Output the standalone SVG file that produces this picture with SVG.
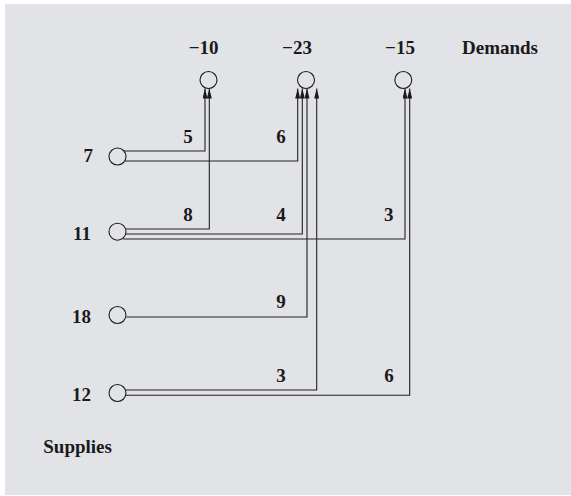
<svg xmlns="http://www.w3.org/2000/svg" width="571" height="496" viewBox="0 0 571 496">
<style>
.t{font-family:"Liberation Serif","Times New Roman",serif;font-weight:bold;font-size:19px;fill:#1a1a1a}
.n{fill:none;stroke:#1a1a1a;stroke-width:1.1}
.c{fill:none;stroke:#222;stroke-width:1.1}
</style>
<defs>
<marker id="ah" markerUnits="userSpaceOnUse" markerWidth="10" markerHeight="5" refX="10" refY="2.5" orient="auto">
<path d="M0,0 L10,2.5 L0,5 z" fill="#1a1a1a"/>
</marker>
</defs>
<rect x="5" y="4" width="566" height="491" fill="#e2e3e7"/>
<g id="connectors">
<path class="c" marker-end="url(#ah)" d="M124,151 H205 V88.5"/>
<path class="c" marker-end="url(#ah)" d="M125,161 H297.7 V88.5"/>
<path class="c" marker-end="url(#ah)" d="M126,229 H209.3 V88.5"/>
<path class="c" marker-end="url(#ah)" d="M126,234 H302.3 V88.5"/>
<path class="c" marker-end="url(#ah)" d="M123,239 H405 V88.5"/>
<path class="c" marker-end="url(#ah)" d="M126.5,317 H307 V88.5"/>
<path class="c" marker-end="url(#ah)" d="M125.5,390 H316.7 V88.5"/>
<path class="c" marker-end="url(#ah)" d="M125,395.3 H409.7 V88.5"/>
<text class="t" x="188" y="142.7" text-anchor="middle">5</text>
<text class="t" x="281" y="142.7" text-anchor="middle">6</text>
<text class="t" x="188" y="220.7" text-anchor="middle">8</text>
<text class="t" x="281" y="220.7" text-anchor="middle">4</text>
<text class="t" x="388.7" y="220.7" text-anchor="middle">3</text>
<text class="t" x="281" y="308.3" text-anchor="middle">9</text>
<text class="t" x="281" y="381.7" text-anchor="middle">3</text>
<text class="t" x="389" y="381.7" text-anchor="middle">6</text>
</g>
<g id="d1"><circle class="n" cx="208.5" cy="80" r="8.5"/><text class="t" x="203.6" y="54" text-anchor="middle">−10</text></g>
<g id="d2"><circle class="n" cx="306" cy="80" r="8.5"/><text class="t" x="297" y="54" text-anchor="middle">−23</text></g>
<g id="d3"><circle class="n" cx="403.3" cy="80" r="8.5"/><text class="t" x="400" y="54" text-anchor="middle">−15</text></g>
<g id="demands-label"><text class="t" x="462" y="54">Demands</text></g>
<g id="s1"><circle class="n" cx="117.5" cy="156.5" r="8.5"/><text class="t" x="93" y="161.7" text-anchor="end">7</text></g>
<g id="s2"><circle class="n" cx="117.5" cy="231.7" r="8.5"/><text class="t" x="91" y="240" text-anchor="end">11</text></g>
<g id="s3"><circle class="n" cx="117.5" cy="315" r="8.5"/><text class="t" x="91" y="322.7" text-anchor="end">18</text></g>
<g id="s4"><circle class="n" cx="117.5" cy="393" r="8.5"/><text class="t" x="91" y="400.7" text-anchor="end">12</text></g>
<g id="supplies-label"><text class="t" x="43.3" y="452.7">Supplies</text></g>
</svg>
